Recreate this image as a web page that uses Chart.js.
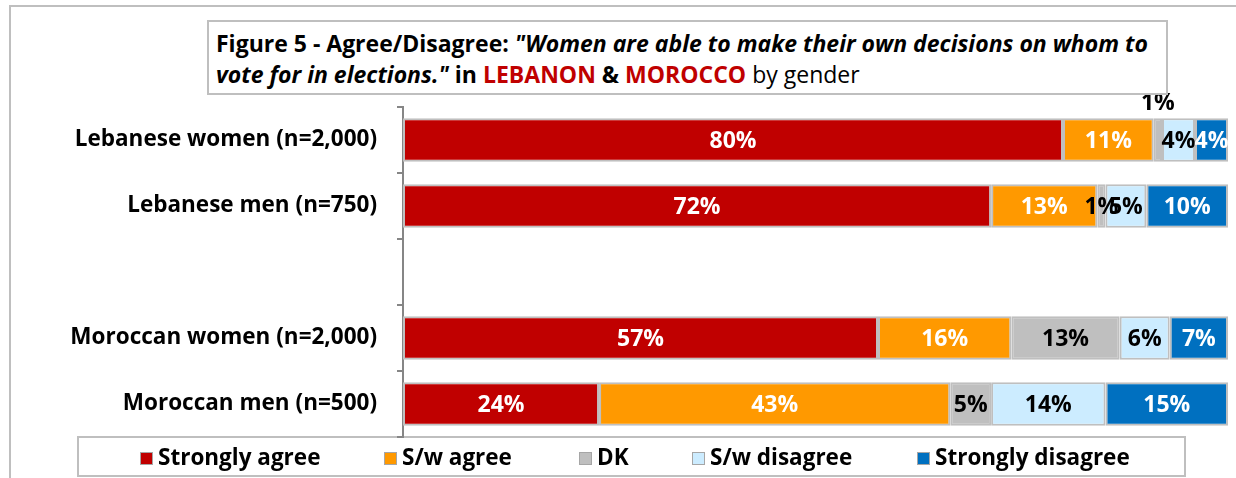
<!DOCTYPE html>
<html>
<head>
<meta charset="utf-8">
<script src="https://cdn.jsdelivr.net/npm/chart.js@4"></script>
<style>
  html, body { margin: 0; padding: 0; background: #fff; }
  #wrap { position: relative; width: 1236px; height: 478px; overflow: hidden; }
  #outer { position: absolute; left: 9px; top: 5px; width: 1240px; height: 480px; border-left: 2px solid #bfbfbf; border-top: 2px solid #bfbfbf; box-sizing: border-box; }
  #title { position: absolute; left: 207px; top: 20px; width: 961px; height: 75px; border: 2px solid #bfbfbf; box-sizing: border-box; background: #fff;
    font-family: "Open Sans", sans-serif; font-weight: bold; font-size: 23px; line-height: 31px; padding: 6px 0 0 7px; color: #000; white-space: nowrap; }
  #title .it { font-style: italic; }
  #title .red { color: #C00000; }
  #title .nb { font-weight: normal; }
  #legbox { position: absolute; left: 77px; top: 436px; width: 1109px; height: 41px; border: 2px solid #bfbfbf; box-sizing: border-box; }
  #legend { position: absolute; left: 0; top: 436px; height: 41px; width: 1236px; font-family: "Open Sans", sans-serif; font-weight: bold; font-size: 22.5px; color: #000; }
  #legend .item { position: absolute; top: 0; height: 41px; line-height: 41px; white-space: nowrap; }
  #legend .sw { display: inline-block; width: 11px; height: 11px; border: 1px solid #a6a6a6; margin-right: 5px; vertical-align: 0px; }
  canvas { position: absolute; left: 0; top: 0; }
</style>
</head>
<body>
<div id="wrap">
  <div id="outer"></div>
  <div id="legbox"></div>
  <canvas id="c" width="1236" height="478"></canvas>
  <div id="legend"></div>
  <div id="title">Figure 5 - Agree/Disagree: <span class="it">"Women are able to make their own decisions on whom to<br>vote for in elections."</span> in <span class="red">LEBANON</span> &amp; <span class="red">MOROCCO</span> <span class="nb">by gender</span></div>
</div>
<script>
const categories = ['Lebanese women (n=2,000)', 'Lebanese men (n=750)', '', 'Moroccan women (n=2,000)', 'Moroccan men (n=500)'];
const seriesNames = ['Strongly agree', 'S/w agree', 'DK', 'S/w disagree', 'Strongly disagree'];
const stronglyAgree    = [80, 72, null, 57, 24];
const swAgree          = [11, 13, null, 16, 43];
const dk               = [1, 1, null, 13, 5];
const swDisagree       = [4, 5, null, 6, 14];
const stronglyDisagree = [4, 10, null, 7, 15];

const seriesValues = [stronglyAgree, swAgree, dk, swDisagree, stronglyDisagree];
const colors = ['#C00000', '#FF9900', '#BFBFBF', '#CCECFF', '#0070C0'];
const labelColors = ['#fff', '#fff', '#000', '#000', '#fff'];

// 100% stacked: normalise each row
const rowTotals = categories.map((_, i) => seriesValues.reduce((s, arr) => s + (arr[i] || 0), 0));
const datasets = seriesValues.map((arr, k) => ({
  label: seriesNames[k],
  data: arr.map((v, i) => v == null ? null : v / rowTotals[i] * 100),
  raw: arr,
  backgroundColor: colors[k],
  borderColor: '#BFBFBF',
  borderWidth: 2,
  borderSkipped: false,
  barPercentage: 0.66,
  categoryPercentage: 1.0
}));

const FONT = '"Open Sans", sans-serif';

const labelPlugin = {
  id: 'barLabels',
  afterDatasetsDraw(chart) {
    const ctx = chart.ctx;
    ctx.save();
    ctx.font = 'bold 23px ' + FONT;
    ctx.textAlign = 'center';
    ctx.textBaseline = 'middle';
    chart.data.datasets.forEach((ds, k) => {
      const meta = chart.getDatasetMeta(k);
      meta.data.forEach((bar, i) => {
        const v = ds.raw[i];
        if (v == null) return;
        const cx = (bar.x + bar.base) / 2;
        let cy = bar.y;
        let col = labelColors[k];
        // tiny DK slice on first row: label above the bar
        if (k === 2 && i === 0) { cy = bar.y - bar.height / 2 - 16; col = '#000'; }
        ctx.fillStyle = col;
        ctx.fillText(v + '%', cx, cy + 1);
      });
    });
    ctx.restore();
  }
};

const chart = new Chart(document.getElementById('c'), {
  type: 'bar',
  data: { labels: categories, datasets },
  options: {
    indexAxis: 'y',
    responsive: false,
    animation: false,
    layout: { padding: { top: 107, right: 8, left: 0, bottom: 41 } },
    scales: {
      x: { stacked: true, min: 0, max: 100, display: false },
      y: {
        stacked: true,
        offset: true,
        afterFit(scale) { scale.width = 403; },
        grid: { offset: true, drawOnChartArea: false, drawTicks: true, tickLength: 6, color: '#868686', lineWidth: 2 },
        border: { display: true, color: '#868686', width: 2 },
        ticks: { color: '#000', padding: 20, font: { family: FONT, size: 22.5, weight: 'bold' } }
      }
    },
    plugins: {
      legend: { display: false },
      tooltip: { enabled: false }
    }
  },
  plugins: [labelPlugin]
});

// HTML legend built from the chart's datasets
const legendX = [140, 384, 579, 692, 917];
const legendEl = document.getElementById('legend');
chart.data.datasets.forEach((ds, k) => {
  const it = document.createElement('div');
  it.className = 'item';
  it.style.left = legendX[k] + 'px';
  const sw = document.createElement('span');
  sw.className = 'sw';
  sw.style.background = ds.backgroundColor;
  it.appendChild(sw);
  it.appendChild(document.createTextNode(ds.label));
  legendEl.appendChild(it);
});
</script>
</body>
</html>
